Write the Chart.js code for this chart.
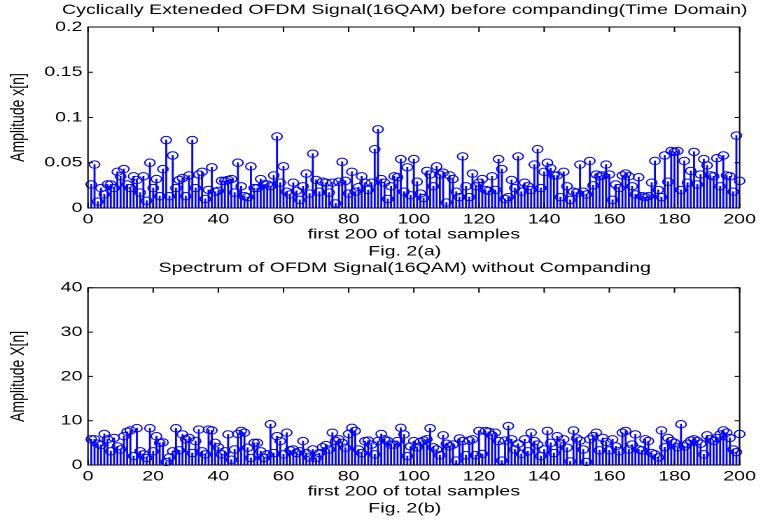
<!DOCTYPE html>
<html><head><meta charset="utf-8">
<script src="https://cdn.jsdelivr.net/npm/chart.js@4"></script>
<style>
html,body{margin:0;padding:0;background:#fff;width:760px;height:523px;overflow:hidden;}
.wrap{position:absolute;left:0;width:543px;transform:scaleX(1.4);transform-origin:0 0;}
#w1{top:0;height:260px;}
#w2{top:258px;height:259px;}
</style></head><body>
<div class="wrap" id="w1"><canvas id="c1"></canvas></div>
<div class="wrap" id="w2"><canvas id="c2"></canvas></div>
<script>
const timeValues = [
0.026,0.048,0.007,0.022,0.015,0.026,0.026,0.022,0.040,0.035,0.043,0.026,0.022,0.035,0.031,0.017,0.035,0.008,0.050,0.022,0.032,0.013,0.043,0.075,0.013,0.058,0.022,0.031,0.033,0.013,0.036,0.075,0.022,
0.037,0.040,0.010,0.020,0.045,0.018,0.019,0.030,0.030,0.031,0.032,0.017,0.050,0.024,0.013,0.012,0.046,0.022,0.022,0.032,0.026,0.026,0.024,0.036,0.079,0.028,0.046,0.018,0.015,0.028,0.019,0.009,0.024,0.038,
0.016,0.060,0.031,0.018,0.029,0.028,0.017,0.028,0.005,0.029,0.051,0.030,0.016,0.040,0.018,0.023,0.035,0.028,0.020,0.028,0.065,0.087,
0.032,0.028,0.010,0.024,0.035,0.034,0.054,0.018,0.045,0.014,0.054,0.029,
0.016,0.011,0.041,0.037,0.024,0.046,0.037,0.039,0.006,0.036,0.032,0.018,0.012,0.057,0.024,0.012,0.038,0.024,0.028,0.032,0.020,0.019,0.035,0.020,0.054,0.043,0.010,0.012,0.031,0.022,0.057,0.018,0.028,
0.024,0.020,0.048,0.065,0.022,0.040,0.050,0.044,0.036,0.036,0.012,0.040,0.024,0.009,0.018,0.017,0.048,0.018,0.015,0.052,0.025,0.037,0.035,0.036,0.048,0.037,0.009,0.026,0.022,0.036,0.038,0.035,0.024,
0.015,0.034,0.013,0.012,0.013,0.028,0.052,0.020,0.012,0.058,0.029,0.063,0.062,0.063,0.020,0.052,0.028,0.041,0.062,0.026,0.037,0.054,0.047,0.036,0.035,0.055,0.024,0.058,0.036,0.035,0.018,0.080,0.030];
const spectrumValues = [
5.8,5.8,4.8,4.5,7.0,5.8,3.1,6.1,4.2,3.5,6.5,7.5,7.8,2.0,8.3,3.1,2.4,1.6,8.3,3.1,6.5,5.0,5.1,0.7,1.7,3.1,8.3,3.3,6.9,5.8,6.1,2.7,5.4,8.0,
3.1,2.4,8.0,7.8,5.0,4.0,2.4,3.1,6.9,1.2,3.5,7.0,7.7,7.3,3.9,1.6,5.0,5.0,3.1,1.6,2.4,9.2,2.7,6.5,5.4,2.4,7.3,3.3,3.5,2.7,3.1,5.4,2.7,
1.7,3.5,1.6,2.7,4.0,4.5,3.5,7.3,5.4,5.8,5.0,3.9,7.0,8.4,7.7,3.5,2.7,5.4,5.5,4.6,2.4,5.4,7.0,5.8,5.4,4.6,4.6,5.4,8.4,6.9,2.0,4.2,5.4,4.0,
5.2,5.5,5.8,8.3,4.0,3.5,2.2,6.7,4.8,4.2,4.6,1.0,6.0,5.4,2.2,5.5,5.8,2.2,7.7,2.5,7.7,7.5,6.7,7.3,5.4,1.0,5.5,8.8,5.8,3.5,4.8,2.5,5.8,
3.1,7.3,5.4,4.6,2.0,3.5,7.7,5.0,2.7,6.5,4.8,5.8,3.9,0.8,7.8,6.0,5.5,3.5,0.7,5.8,6.5,7.3,3.3,6.1,5.2,3.3,5.8,4.2,3.1,7.3,7.7,3.5,4.6,
6.9,3.5,3.3,5.8,5.4,2.7,2.4,1.7,7.8,4.0,6.1,5.4,5.0,4.0,9.2,4.2,4.8,5.5,5.8,5.4,4.8,2.4,6.7,5.8,5.4,6.1,6.9,7.8,7.3,6.1,3.5,2.9,7.0];
const sampleIndex = timeValues.map((_, i) => i + 1);
const xTickLabels = ['0','20','40','60','80','100','120','140','160','180','200'];
const yTickLabelsTime = ['0','0.05','0.1','0.15','0.2'];
const yTickLabelsSpec = ['0','10','20','30','40'];

const FONT = {family:"'Liberation Sans', Arial, sans-serif", size:14, weight:'normal'};
const BLUE = '#0000ff';

const boxPlugin = {
  id:'box',
  afterLayout(chart){
    // centre the title and the figure caption over the axes box, like MATLAB
    const a = chart.chartArea;
    const d = (a.left + a.right) / 2 - chart.width / 2;
    chart.boxes.forEach(b => {
      if (b.options && typeof b.options.text === 'string' && !b.options.ticks) {
        b.left += d; b.right += d;
      }
    });
  },
  afterDatasetsDraw(chart){
    const {ctx, chartArea:a, scales:{x,y}} = chart;
    ctx.save();
    ctx.strokeStyle = '#000'; ctx.lineWidth = 1;
    ctx.strokeRect(a.left, a.top, a.right - a.left, a.bottom - a.top);
    ctx.beginPath();
    x.ticks.forEach(t => {
      const px = x.getPixelForValue(t.value);
      ctx.moveTo(px, a.bottom); ctx.lineTo(px, a.bottom - 5);
      ctx.moveTo(px, a.top); ctx.lineTo(px, a.top + 5);
    });
    y.ticks.forEach(t => {
      const py = y.getPixelForValue(t.value);
      ctx.moveTo(a.left, py); ctx.lineTo(a.left + 3.6, py);
      ctx.moveTo(a.right, py); ctx.lineTo(a.right - 3.6, py);
    });
    ctx.stroke();
    ctx.restore();
  }
};

function makeChart(id, values, yMax, yStep, yLabels, yTitle, title, fig, titlePad) {
  const pts = values.map((v, i) => ({x: sampleIndex[i], y: v}));
  return new Chart(document.getElementById(id), {
    type: 'bar',
    data: {datasets: [
      {type:'line', data: pts, showLine:false, pointStyle:'circle', pointRadius:3.7, pointHoverRadius:3.7,
       pointBorderWidth:1, pointBorderColor:BLUE, pointBackgroundColor:'rgba(0,0,0,0)', clip:false, order:0},
      {type:'bar', data: pts, backgroundColor:BLUE, barThickness:0.75, grouped:false, order:1}
    ]},
    options: {
      responsive:true, maintainAspectRatio:false, animation:false, devicePixelRatio:2,
      events: [],
      layout: {padding:{left:0, right:13, top:0, bottom:0}},
      plugins: {
        legend:{display:false}, tooltip:{enabled:false},
        title:{display:true, text:title, color:'#000', font:FONT, padding:titlePad},
        subtitle:{display:true, position:'bottom', text:fig, color:'#000', font:FONT, padding:{top:0,bottom:0}}
      },
      scales: {
        x: {type:'linear', min:0, max:200, offset:false,
            ticks:{stepSize:20, padding:3, color:'#000', font:FONT, maxRotation:0, autoSkip:false,
                   callback:(v, i) => xTickLabels[i]},
            grid:{display:false, drawTicks:false}, border:{display:false},
            title:{display:true, text:'first 200 of total samples', color:'#000', font:FONT, padding:{top:0,bottom:0}},
            afterFit(s){ s.height = 35.2; }},
        y: {type:'linear', min:0, max:yMax,
            ticks:{stepSize:yStep, padding:4, color:'#000', font:FONT, callback:(v, i) => yLabels[i]},
            grid:{display:false, drawTicks:false}, border:{display:false},
            title:{display:true, text:yTitle, color:'#000', font:FONT, padding:{top:4.5,bottom:0}},
            afterFit(s){ s.width = 62.86; }}
      }
    },
    plugins:[boxPlugin]
  });
}

makeChart('c1', timeValues, 0.2, 0.05, yTickLabelsTime, 'Amplitude x[n]',
  'Cyclically Exteneded OFDM Signal(16QAM) before companding(Time Domain)', 'Fig. 2(a)', {top:1.6, bottom:8.6});
makeChart('c2', spectrumValues, 40, 10, yTickLabelsSpec, 'Amplitude X[n]',
  'Spectrum of OFDM Signal(16QAM) without Companding', 'Fig. 2(b)', {top:1.6, bottom:11.4});
</script>
</body></html>
